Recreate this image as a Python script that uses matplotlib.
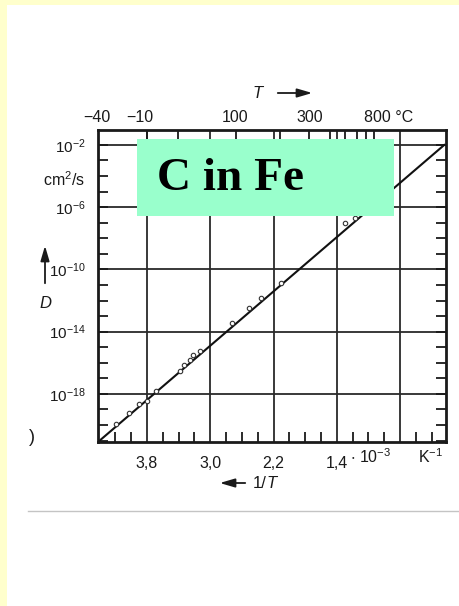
import numpy as np
import matplotlib.pyplot as plt
from matplotlib.patches import Rectangle
from matplotlib.lines import Line2D

plt.rcParams['font.family'] = ['Liberation Sans', 'DejaVu Sans']
plt.rcParams['mathtext.fontset'] = 'custom'
plt.rcParams['mathtext.rm'] = 'Liberation Sans'
plt.rcParams['mathtext.it'] = 'Liberation Sans:italic'

W, H = 459, 606

# measured points: 1/T in 10^-3 K^-1, log10 of D in cm^2/s
inv_T = [4.196, 4.030, 3.905, 3.797, 3.686, 3.386, 3.329, 3.256, 3.216, 3.130,
         2.725, 2.512, 2.358, 2.100, 1.290, 1.166]
log_D = [-19.92, -19.21, -18.63, -18.47, -17.84, -16.55, -16.14, -15.79, -15.53, -15.24,
         -13.43, -12.51, -11.85, -10.87, -7.04, -6.72]
# fitted line end points
fit_inv_T = [4.42, 0.04]
fit_log_D = [-21.09, -2.0]

x_grid = [3.8, 3.0, 2.2, 1.4, 0.6]
x_labels = ['3,8', '3,0', '2,2', '1,4', '']
x_minor = [4.2, 4.0, 3.6, 3.4, 3.2, 2.8, 2.6, 2.4, 2.0, 1.8, 1.6, 1.2, 1.0, 0.8, 0.4, 0.2]
y_grid_exp = [-2, -6, -10, -14, -18]
y_decades = list(range(-21, -1))
top_T_ticks = [-10, 20, 100, 200, 300, 400, 500, 600, 700, 800]   # deg C
top_T_labels = ['\u221240', '\u221210', '100', '300', '800 \u00b0C']

ink = '#1a1a1a'
arrow = dict(arrowstyle='-|>,head_length=0.75,head_width=0.22', color=ink, lw=1.3,
             mutation_scale=12)

fig = plt.figure(figsize=(W / 100, H / 100), dpi=100)
fig.patch.set_facecolor('#ffffcc')
fig.add_artist(Rectangle((7 / W, 0), 1, 1 - 5 / H, transform=fig.transFigure,
                         facecolor='white', edgecolor='none', zorder=0))

ax = fig.add_axes([98 / W, 1 - 442 / H, (446 - 98) / W, (442 - 130) / H])
ax.set_yscale('log')
ax.set_xlim(4.42, 0.018)
ax.set_ylim(10 ** -21.09, 10 ** -1.04)

for g in x_grid:
    ax.axvline(g, color='#2a2a2a', lw=1.3, zorder=1)
for e in y_grid_exp:
    ax.axhline(10.0 ** e, color='#2a2a2a', lw=1.3, zorder=1)

ax.plot(fit_inv_T, [10.0 ** v for v in fit_log_D], color='#111111', lw=1.5, zorder=2)
ax.plot(inv_T, [10.0 ** v for v in log_D], 'o', ms=3.2, mfc='white', mec='#333333',
        mew=0.8, zorder=3)

for s in ax.spines.values():
    s.set_linewidth(2.0)
    s.set_color(ink)

ax.set_xticks(x_grid)
ax.set_xticklabels(x_labels)
ax.set_xticks(x_minor, minor=True)
ax.set_yticks([10.0 ** k for k in y_decades])
ax.set_yticklabels([r'$\mathregular{10^{%d}}$' % k if k in y_grid_exp else '' for k in y_decades])
ax.yaxis.set_minor_locator(plt.NullLocator())
ax.tick_params(axis='y', which='both', direction='in', length=7, width=1.3,
               left=True, right=True, labelsize=11, pad=9, colors=ink)
ax.tick_params(axis='x', which='major', direction='in', length=0, labelsize=11.5,
               pad=10, colors=ink)
ax.tick_params(axis='x', which='minor', direction='in', length=7, width=1.3, colors=ink)

ax2 = ax.twiny()
ax2.set_xlim(ax.get_xlim())
ax2.set_xticks([1000.0 / (t + 273.15) for t in top_T_ticks])
ax2.set_xticklabels([])
ax2.tick_params(axis='x', direction='in', length=8, width=1.3, colors=ink)
for s in ax2.spines.values():
    s.set_visible(False)

# top scale labels
for lab, px in zip(top_T_labels, [97, 140, 235, 310, 389]):
    fig.text(px / W, 1 - 118 / H, lab, ha='center', va='center', fontsize=11.5, color=ink)

fig.text(258 / W, 1 - 93 / H, 'T', ha='center', va='center', fontsize=12,
         style='italic', color=ink)
ax.annotate('', xy=(315 / W, 1 - 93 / H), xytext=(275 / W, 1 - 93 / H),
            xycoords='figure fraction', textcoords='figure fraction', arrowprops=arrow)

# bottom labels
fig.text(350 / W, 1 - 457 / H, r'$\mathregular{\cdot\ 10^{-3}}$', ha='left', va='center',
         fontsize=11.5, color=ink)
fig.text(431 / W, 1 - 457 / H, r'$\mathregular{K^{-1}}$', ha='center', va='center',
         fontsize=11.5, color=ink)
ax.annotate('', xy=(217 / W, 1 - 483 / H), xytext=(248 / W, 1 - 483 / H),
            xycoords='figure fraction', textcoords='figure fraction', arrowprops=arrow)
fig.text(267 / W, 1 - 483 / H, '1/', ha='right', va='center', fontsize=12, color=ink)
fig.text(267 / W, 1 - 483 / H, 'T', ha='left', va='center', fontsize=12, style='italic',
         color=ink)

# left labels
fig.text(64 / W, 1 - 180 / H, r'$\mathregular{cm^2/s}$', ha='center', va='center',
         fontsize=11.5, color=ink)
ax.annotate('', xy=(45 / W, 1 - 243 / H), xytext=(45 / W, 1 - 286 / H),
            xycoords='figure fraction', textcoords='figure fraction', arrowprops=arrow)
fig.text(45 / W, 1 - 303 / H, 'D', ha='center', va='center', fontsize=12, style='italic',
         color=ink)
fig.text(32 / W, 1 - 437 / H, ')', ha='center', va='center', fontsize=13, color=ink)

# separator line
fig.add_artist(Line2D([28 / W, 1.0], [1 - 511 / H, 1 - 511 / H], transform=fig.transFigure,
                      color='#c4c4c4', lw=1.0))

# green label box
fig.add_artist(Rectangle((137 / W, 1 - 216 / H), (394 - 137) / W, (216 - 139) / H,
                         transform=fig.transFigure, facecolor='#99ffcc', edgecolor='none',
                         zorder=5))
fig.text(157 / W, 1 - 179 / H, 'C in Fe', ha='left', va='center', fontsize=34,
         fontweight='bold', family='Liberation Serif', color='black', zorder=6)

fig.savefig('out.png', dpi=100, facecolor=fig.get_facecolor())
